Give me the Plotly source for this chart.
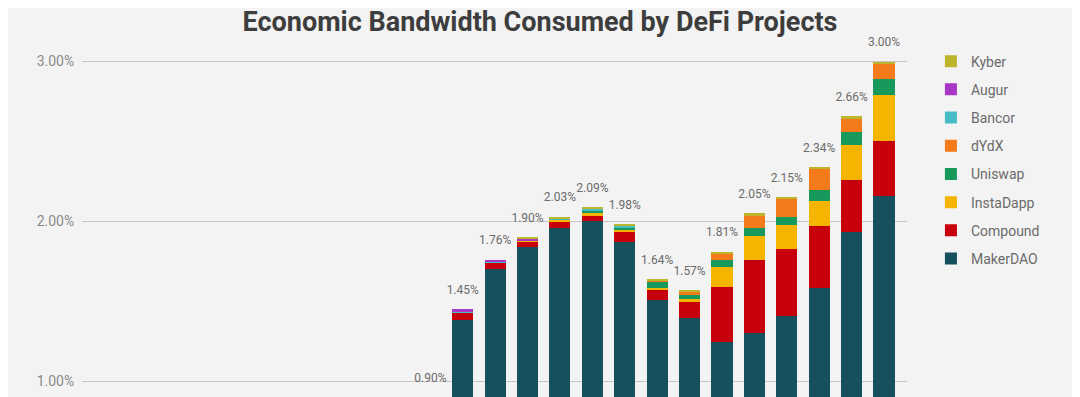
import plotly.graph_objects as go

# ---- data (percent of economic bandwidth) ----
periods = list(range(16))
totals = [0.78, 0.90, 1.45, 1.76, 1.90, 2.03, 2.09, 1.98, 1.64, 1.57, 1.81, 2.05, 2.15, 2.34, 2.66, 3.00]
total_labels = ["0.78%", "0.90%", "1.45%", "1.76%", "1.90%", "2.03%", "2.09%", "1.98%",
                "1.64%", "1.57%", "1.81%", "2.05%", "2.15%", "2.34%", "2.66%", "3.00%"]

makerdao = [0.74, 0.85, 1.385, 1.704, 1.84, 1.955, 2.00, 1.871, 1.506, 1.392, 1.246, 1.30, 1.41, 1.58, 1.93, 2.16]
compound = [0.03, 0.03, 0.043, 0.035, 0.032, 0.042, 0.035, 0.06, 0.067, 0.10, 0.344, 0.46, 0.415, 0.39, 0.33, 0.34]
instadapp = [0, 0, 0, 0, 0.01, 0.015, 0.015, 0.017, 0.012, 0.019, 0.125, 0.15, 0.155, 0.16, 0.22, 0.29]
uniswap = [0, 0, 0, 0, 0, 0, 0.02, 0.015, 0.035, 0.027, 0.04, 0.045, 0.05, 0.065, 0.08, 0.10]
dydx = [0, 0, 0, 0, 0, 0, 0, 0, 0.01, 0.02, 0.045, 0.08, 0.11, 0.13, 0.08, 0.10]
bancor = [0.01, 0.02, 0.01, 0.006, 0, 0.008, 0.01, 0.01, 0, 0, 0, 0, 0, 0, 0, 0]
augur = [0, 0, 0.012, 0.015, 0.01, 0, 0, 0, 0, 0, 0, 0, 0, 0, 0, 0]
kyber = [0, 0, 0, 0, 0.008, 0.01, 0.01, 0.007, 0.01, 0.012, 0.01, 0.015, 0.01, 0.015, 0.02, 0.01]

series_names = ["MakerDAO", "Compound", "InstaDapp", "Uniswap", "dYdX", "Bancor", "Augur", "Kyber"]
series_values = [makerdao, compound, instadapp, uniswap, dydx, bancor, augur, kyber]
series_colors = ["#16505c", "#c8000c", "#f4b400", "#16995a", "#f47a1a", "#46bdc6", "#a936c4", "#bdb52c"]

fig = go.Figure()
n = len(series_names)
for i, (name, vals, col) in enumerate(zip(series_names, series_values, series_colors)):
    fig.add_trace(go.Bar(
        x=periods, y=vals, name=name, legendgroup=name, legendrank=n - i,
        marker=dict(color=col, line=dict(width=0)),
        hoverinfo="name+y",
    ))

fig.add_trace(go.Scatter(
    x=periods, y=totals, text=total_labels, mode="markers+text",
    textposition="top center", showlegend=False, cliponaxis=False,
    marker=dict(size=18, opacity=0),
    textfont=dict(family="Roboto, Arial", size=12, color="#6b6b6b"),
    hoverinfo="skip",
))

fig.update_layout(
    width=1080, height=397,
    margin=dict(l=74, r=181, t=21, b=8),
    paper_bgcolor="#f3f3f3", plot_bgcolor="#f3f3f3",
    barmode="stack", bargap=0.35,
    title=dict(text="<b>Economic Bandwidth Consumed by DeFi Projects</b>",
               x=0.4926, xref="container", xanchor="center",
               y=0.966, yref="container", yanchor="middle",
               font=dict(family="Roboto, Arial", size=27, color="#3d3d3d")),
    font=dict(family="Roboto, Arial", color="#6b6b6b"),
    legend=dict(x=1.029, xanchor="left", y=0.955, yanchor="top",
                traceorder="grouped", tracegroupgap=7,
                font=dict(family="Roboto, Arial", size=14, color="#6b6b6b"),
                bgcolor="rgba(0,0,0,0)"),
    showlegend=True,
)
fig.update_xaxes(range=[-9.75, 15.71], showticklabels=False, showgrid=False,
                 zeroline=False, showline=False, ticks="")
fig.update_yaxes(range=[0.9, 3.204], dtick=1, tick0=0, tickformat=".2f", ticksuffix="%",
                 showgrid=True, gridcolor="#c6c6c6", gridwidth=1, zeroline=False,
                 tickfont=dict(family="Roboto, Arial", size=14, color="#8a8a8a"),
                 ticks="outside", ticklen=4, tickcolor="rgba(0,0,0,0)")

fig.write_html("out.html")
